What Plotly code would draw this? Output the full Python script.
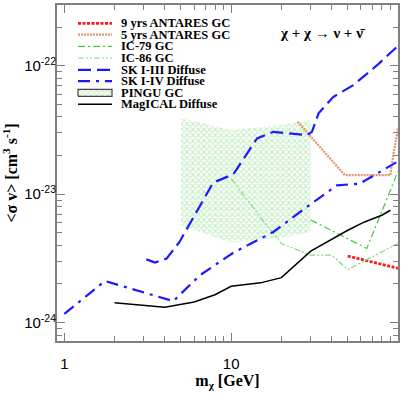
import plotly.graph_objects as go

# ---- data ----
antares9_x = [50, 100]
antares9_y = [3.3e-24, 2.65e-24]

antares5_x = [25, 48, 90, 94, 100]
antares5_y = [3.66e-23, 1.41e-23, 1.41e-23, 2.07e-23, 3.25e-23]

ic79_x = [30, 65, 100]
ic79_y = [6.3e-24, 3.78e-24, 1.5e-23]

ic86_x = [10, 15, 20, 30, 40, 50, 100]
ic86_y = [1.32e-23, 6.6e-24, 4.13e-24, 3.35e-24, 3.35e-24, 2.59e-24, 4.13e-24]

sk3_x = [3.1, 3.5, 4.1, 4.9, 7.8, 10.3, 14.3, 17.9, 28.5, 30.5, 33.4, 41, 54, 75, 100]
sk3_y = [3.11e-24, 2.94e-24, 3.15e-24, 4.25e-24, 1.23e-23, 1.43e-23, 2.72e-23, 3.06e-23,
         2.88e-23, 3.06e-23, 4.26e-23, 5.73e-23, 7.07e-23, 1.01e-22, 1.43e-22]

sk4_x = [1.0, 1.75, 4.5, 6.5, 10.3, 17.9, 29.7, 43, 59, 100]
sk4_y = [1.17e-24, 2.11e-24, 1.47e-24, 2.34e-24, 3.5e-24, 5.08e-24, 8.3e-24, 1.17e-23,
         1.21e-23, 1.8e-23]

pingu_x = [5, 10, 20, 30]
pingu_upper = [3.9e-23, 3.15e-23, 3.45e-23, 3.77e-23]
pingu_lower = [5.7e-24, 4.2e-24, 4.6e-24, 5.1e-24]

magical_x = [2, 4, 6, 8, 10, 15, 20, 30, 50, 63, 80, 90]
magical_y = [1.43e-24, 1.32e-24, 1.45e-24, 1.65e-24, 1.92e-24, 2.04e-24, 2.24e-24,
             3.6e-24, 5.24e-24, 6.08e-24, 6.86e-24, 7.5e-24]

legend_names = ["9 yrs ANTARES GC", "5 yrs ANTARES GC", "IC-79 GC", "IC-86 GC",
                "SK I-III Diffuse", "SK I-IV Diffuse", "PINGU GC", "MagICAL Diffuse"]

x_ticks = [1, 10, 100]
x_ticktext = ["1", "10", "10<sup>2</sup>"]
y_ticks = [1e-24, 1e-23, 1e-22]
y_ticktext = ["10<sup>-24</sup>", "10<sup>-23</sup>", "10<sup>-22</sup>"]

# ---- styles ----
RED = "#ff1a1a"
ORANGE = "#e0946c"
GREEN1 = "#3ccc3c"
GREEN2 = "#7ddc7d"
BLUE = "#1a1aff"
HATCH = "#8ee08e"

styles = [
    dict(color=RED, width=2.8, dash="3px,1.5px"),
    dict(color=ORANGE, width=2.2, dash="2px,1px"),
    dict(color=GREEN1, width=1.2, dash="7px,3px,2px,3px"),
    dict(color=GREEN2, width=1.2, dash="6px,2px,2px,2px,2px,2px"),
    dict(color=BLUE, width=2.2, dash="13px,6px"),
    dict(color=BLUE, width=2.2, dash="12px,6px,3px,6px"),
    None,
    dict(color="black", width=1.5),
]
pattern = dict(shape="x", fgcolor=HATCH, bgcolor="rgba(0,0,0,0)", size=4, solidity=0.5)

fig = go.Figure()

# PINGU hatched band
fig.add_trace(go.Scatter(
    x=pingu_x + pingu_x[::-1], y=pingu_upper + pingu_lower[::-1],
    fill="toself", mode="lines", line=dict(width=0, color=HATCH),
    fillcolor="rgba(0,0,0,0)", fillpattern=pattern,
    showlegend=False, hoverinfo="skip"))

series = [(antares9_x, antares9_y), (antares5_x, antares5_y), (ic79_x, ic79_y),
          (ic86_x, ic86_y), (sk3_x, sk3_y), (sk4_x, sk4_y), None, (magical_x, magical_y)]
for name, s, st in zip(legend_names, series, styles):
    if s is None:
        continue
    fig.add_trace(go.Scatter(x=s[0], y=s[1], mode="lines", line=st, name=name,
                             showlegend=False))

# ---- hand-made legend on an overlay axis (plotly legend rows are too tall) ----
row_px = [23.3, 34.6, 46.4, 58.0, 69.8, 81.2, 92.8, 104.3]
L, T, W, H = 57, 5, 341, 336
x0, x1 = (78 - L) / W, (112 - L) / W
for i, (name, st) in enumerate(zip(legend_names, styles)):
    yy = (T + H - row_px[i]) / H
    if st is None:
        dy = 3.5 / H
        fig.add_trace(go.Scatter(
            x=[x0, x1, x1, x0, x0], y=[yy - dy, yy - dy, yy + dy, yy + dy, yy - dy],
            xaxis="x2", yaxis="y2", mode="lines", fill="toself",
            line=dict(color="#444444", width=1.2), fillcolor="rgba(0,0,0,0)",
            fillpattern=pattern, showlegend=False, hoverinfo="skip"))
    else:
        fig.add_trace(go.Scatter(x=[x0, x1], y=[yy, yy], xaxis="x2", yaxis="y2",
                                 mode="lines", line=st, showlegend=False, hoverinfo="skip"))
    fig.add_annotation(x=(120 - L) / W, y=yy, xref="paper", yref="paper", text="<b>" + name + "</b>",
                       showarrow=False, xanchor="left", yanchor="middle", borderpad=0,
                       font=dict(family="Liberation Serif", size=12.5, color="black"))

fig.add_annotation(x=(279 - L) / W, y=(T + H - 24) / H, xref="paper", yref="paper",
                   text="<b>\u03c7 + \u03c7 \u2192 \u03bd + \u03bd\u0304</b>", showarrow=False,
                   xanchor="left", borderpad=0,
                   font=dict(family="Liberation Serif", size=15, color="black"))

minor_x = [m * 10 ** d for d in range(0, 2) for m in range(2, 10)]
minor_y = [m * 10.0 ** d for d in range(-25, -21) for m in range(2, 10)]

axis_common = dict(showline=True, linecolor="#808080", linewidth=2, mirror="allticks",
                   ticks="inside", ticklen=8, tickcolor="#808080", tickwidth=1.2,
                   showgrid=False, zeroline=False, automargin=False,
                   tickfont=dict(family="Liberation Sans", size=15, color="black"))

fig.update_layout(
    width=409, height=394,
    margin=dict(l=L, r=409 - L - W, t=T, b=394 - T - H),
    paper_bgcolor="white", plot_bgcolor="white",
    xaxis=dict(type="log", range=[-0.044, 2.0], tickvals=x_ticks, ticktext=x_ticktext,
               ticklabelstandoff=8,
               minor=dict(tickmode="array", tickvals=minor_x, ticks="inside", ticklen=5,
                          tickcolor="#808080", tickwidth=1, showgrid=False),
               title=dict(text="<b>m<sub>\u03c7</sub> [GeV]</b>", standoff=0,
                          font=dict(family="Liberation Serif", size=16, color="black")),
               **axis_common),
    yaxis=dict(type="log", range=[-24.143, -21.527], tickvals=y_ticks, ticktext=y_ticktext,
               ticklabelstandoff=-4,
               minor=dict(tickmode="array", tickvals=minor_y, ticks="inside", ticklen=5,
                          tickcolor="#808080", tickwidth=1, showgrid=False),
               title=dict(text="<b>&lt;\u03c3 v&gt; [cm<sup>3</sup> s<sup>-1</sup>]</b>", standoff=6,
                          font=dict(family="Liberation Serif", size=16, color="black")),
               **axis_common),
    xaxis2=dict(overlaying="x", range=[0, 1], visible=False),
    yaxis2=dict(overlaying="y", range=[0, 1], visible=False),
    showlegend=False,
)

# the page body has a default 8px margin; drop it so the figure sits at the corner
fig.write_html("out.html", config={"displayModeBar": False},
               post_script="document.body.style.margin='0px';")
